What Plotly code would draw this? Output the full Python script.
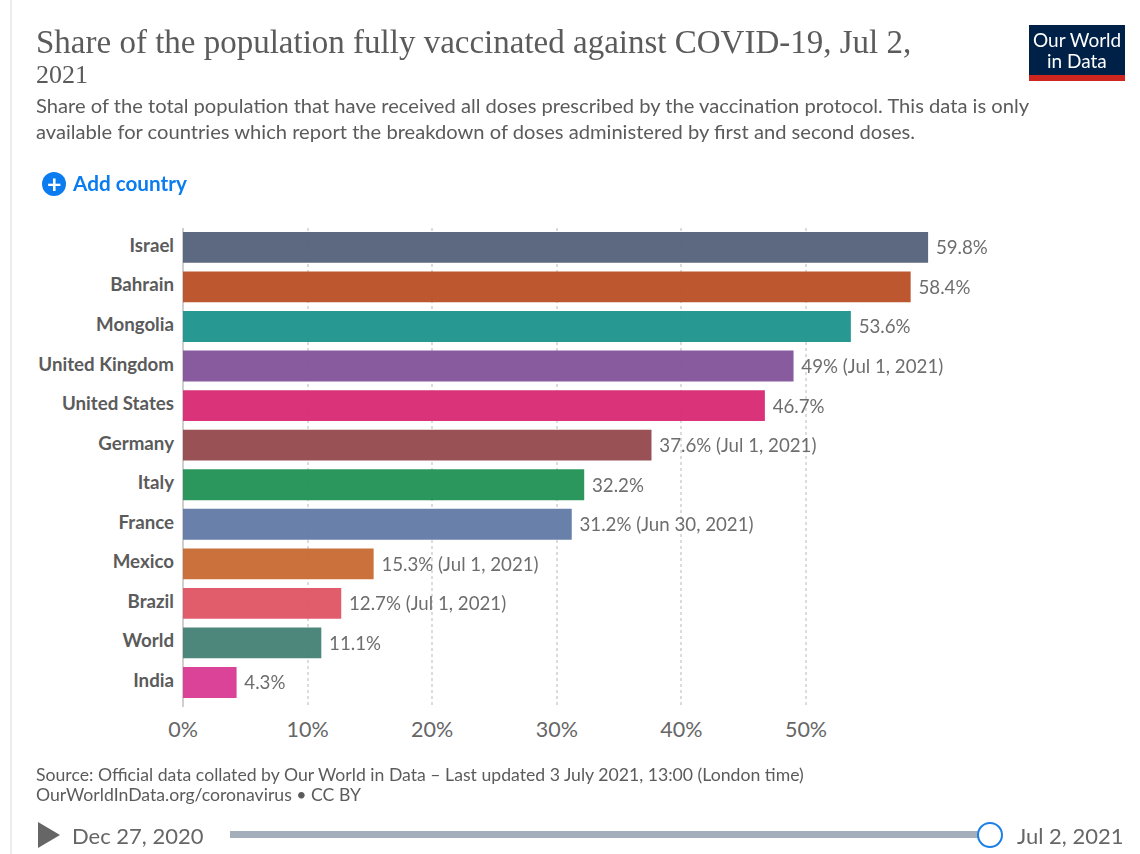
import plotly.graph_objects as go

countries = ["Israel", "Bahrain", "Mongolia", "United Kingdom", "United States", "Germany",
             "Italy", "France", "Mexico", "Brazil", "World", "India"]
shares = [59.8, 58.4, 53.6, 49.0, 46.7, 37.6, 32.2, 31.2, 15.3, 12.7, 11.1, 4.3]
value_labels = ["59.8%", "58.4%", "53.6%", "49% (Jul 1, 2021)", "46.7%", "37.6% (Jul 1, 2021)",
                "32.2%", "31.2% (Jun 30, 2021)", "15.3% (Jul 1, 2021)", "12.7% (Jul 1, 2021)",
                "11.1%", "4.3%"]
bar_colors = ["#54617A", "#B94E24", "#1C938D", "#82539A", "#D82973", "#95484D",
              "#209255", "#617AA6", "#C96A32", "#E05564", "#448074", "#D83993"]
tick_values = [0, 10, 20, 30, 40, 50]
tick_labels = ["0%", "10%", "20%", "30%", "40%", "50%"]

W, H = 1140, 854
X0, X1 = 183, 1117.5
Y0, Y1 = 228, 707
FONT = "Lato"


def fx(x):
    return x / W


def fy(y):
    return 1 - y / H


def note(x, y, text, size, color="#5b5b5b", anchor="left", family=FONT, weight=None):
    font = dict(family=family, size=size, color=color)
    if weight:
        font["weight"] = weight
    return dict(xref="paper", yref="paper", x=fx(x), y=fy(y), text=text, showarrow=False,
                xanchor=anchor, yanchor="middle", font=font, align="left",
                xshift=-1 if anchor == "left" else 0, yshift=1)


def box(x0, y0, x1, y1, fill, line=None, kind="rect", width=0):
    return dict(type=kind, xref="paper", yref="paper", x0=fx(x0), x1=fx(x1), y0=fy(y0), y1=fy(y1),
                fillcolor=fill, line=dict(color=line or fill, width=width), layer="above")


fig = go.Figure(go.Bar(
    x=shares, y=countries, orientation="h", width=0.78,
    marker=dict(color=bar_colors, line=dict(width=0)), opacity=0.95,
    text=value_labels, texttemplate="&nbsp;%{text}", textposition="outside", cliponaxis=False,
    textfont=dict(family=FONT, size=18.7, color="#666666"),
))

annotations = [
    note(35, 43, "Share of the population fully vaccinated against COVID-19, Jul 2,", 33, family="Liberation Serif"),
    note(35, 76, "2021", 26, family="Liberation Serif"),
    note(35, 106, "Share of the total population that have received all doses prescribed by the vaccination protocol. This data is only", 20.15),
    note(35, 132, "available for countries which report the breakdown of doses administered by first and second doses.", 20.15),
    note(71, 184, "Add country", 20.7, "#0a7cf0", weight=700),
    note(54, 184, "+", 25, "white", anchor="center", weight=700),
    note(1077, 41, "Our World", 19, "white", anchor="center"),
    note(1077, 62, "in Data", 19, "white", anchor="center"),
    note(35, 775, "Source: Official data collated by Our World in Data – Last updated 3 July 2021, 13:00 (London time)", 17.65),
    note(35, 795, "OurWorldInData.org/coronavirus • CC BY", 17.65),
    note(71, 836, "Dec 27, 2020", 22, "#666666"),
    note(1016, 836, "Jul 2, 2021", 22, "#666666"),
]

shapes = [
    box(10, 0, 12, 854, "#ececec"),
    box(1029, 25, 1125, 75, "#002147"),
    box(1029, 75, 1125, 81, "#CE261E"),
    box(42, 172, 66, 196, "#0a7cf0", kind="circle"),
    dict(type="path", xref="paper", yref="paper", layer="above", fillcolor="#666666", line=dict(width=0),
         path=f"M {fx(38)} {fy(822)} L {fx(60)} {fy(835)} L {fx(38)} {fy(848)} Z"),
    box(230, 831, 990, 838, "#a4adba"),
    box(978, 823, 1002, 847, "white", line="#1b7fe8", kind="circle", width=2),
]

fig.update_layout(
    width=W, height=H, margin=dict(l=0, r=0, t=0, b=0, pad=0),
    paper_bgcolor="white", plot_bgcolor="white", showlegend=False,
    xaxis=dict(domain=[fx(X0), fx(X1)], range=[0, 75], tickvals=tick_values, ticktext=tick_labels,
               automargin=False,
               showgrid=True, gridcolor="#dcdcdc", griddash="3px,3px", gridwidth=1.5,
               zeroline=True, zerolinecolor="#cfcfcf", zerolinewidth=1.5, showline=False, ticks="",
               tickfont=dict(family=FONT, size=21.5, color="#666666"), ticklabelstandoff=7),
    yaxis=dict(domain=[fy(Y1), fy(Y0)], range=[11.62, -0.49], type="category",
               automargin=False,
               categoryorder="array", categoryarray=countries, showgrid=False, zeroline=False,
               ticks="", ticklabelstandoff=8, ticklabelshift=2,
               tickfont=dict(family=FONT, size=18.7, color="#5b5b5b", weight=700)),
    annotations=annotations, shapes=shapes,
)

fig.write_html("out.html", config=dict(displayModeBar=False),
               post_script="document.body.style.margin='0';")
